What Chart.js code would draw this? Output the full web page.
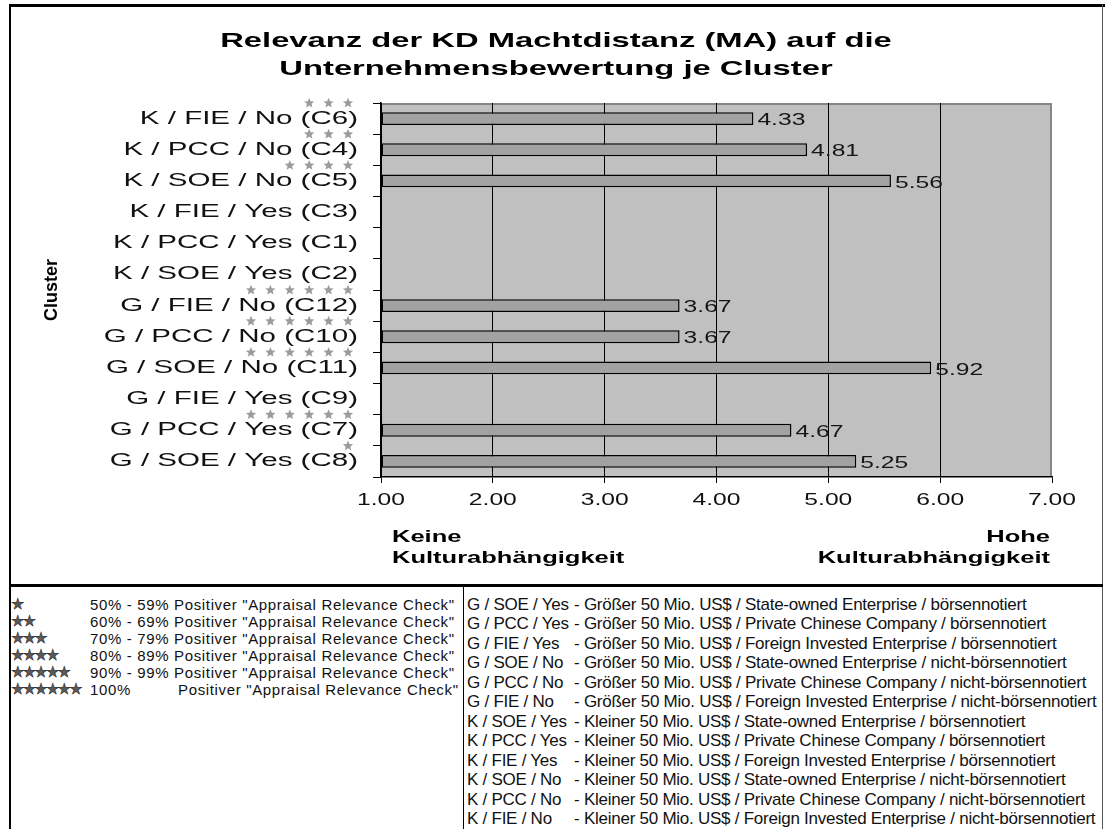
<!DOCTYPE html>
<html>
<head>
<meta charset="utf-8">
<script src="https://cdn.jsdelivr.net/npm/chart.js@4.4.1/dist/chart.umd.min.js"></script>
<style>
  html, body { margin: 0; padding: 0; background: #fff; }
  #page { position: relative; width: 1105px; height: 829px; overflow: hidden; background: #fff;
          font-family: "Liberation Sans", Arial, sans-serif; color: #111; }
  #chartWrap { position: absolute; left: 11px; top: 7px; width: 1090px; height: 577px; }
  .ln { position: absolute; background: #000; }
  .stars { position: absolute; left: 11px; font-family: "DejaVu Sans", sans-serif; font-size: 15px;
           color: #5a5a5a; letter-spacing: -1.8px; -webkit-text-stroke: 0.5px #222; white-space: nowrap; }
  .lt { position: absolute; font-size: 15px; letter-spacing: 0.65px; white-space: nowrap; }
  .code { position: absolute; left: 467px; font-size: 17px; letter-spacing: -0.25px; white-space: nowrap; }
  .desc { position: absolute; left: 574px; font-size: 17px; letter-spacing: -0.25px; white-space: nowrap; }
</style>
</head>
<body>
<div id="page">
  <div id="chartWrap"><canvas id="c" width="1090" height="577"></canvas></div>
  <div class="ln" style="left:9px;top:4px;width:1096px;height:3px;"></div>
  <div class="ln" style="left:9px;top:4px;width:2px;height:825px;"></div>
  <div class="ln" style="left:1102px;top:4px;width:1px;height:825px;background:#555;"></div>
  <div class="ln" style="left:9px;top:584px;width:1094px;height:3px;"></div>
  <div class="ln" style="left:463px;top:587px;width:1px;height:242px;"></div>
  <div id="legendLeft"></div>
  <div id="legendRight"></div>
</div>
<script>
// ---------------- data ----------------
const titleLines = ['Relevanz der KD Machtdistanz (MA) auf die', 'Unternehmensbewertung je Cluster'];
const categories = [
  'K / FIE / No (C6)', 'K / PCC / No (C4)', 'K / SOE / No (C5)',
  'K / FIE / Yes (C3)', 'K / PCC / Yes (C1)', 'K / SOE / Yes (C2)',
  'G / FIE / No (C12)', 'G / PCC / No (C10)', 'G / SOE / No (C11)',
  'G / FIE / Yes (C9)', 'G / PCC / Yes (C7)', 'G / SOE / Yes (C8)'
];
const values = [4.33, 4.81, 5.56, null, null, null, 3.67, 3.67, 5.92, null, 4.67, 5.25];
const starCounts = [3, 3, 4, 0, 0, 0, 6, 6, 6, 0, 6, 1];
const xTickValues = [1, 2, 3, 4, 5, 6, 7];
const yAxisTitle = 'Cluster';
const leftAxisNote = ['Keine', 'Kulturabhängigkeit'];
const rightAxisNote = ['Hohe', 'Kulturabhängigkeit'];
const starLegendCounts = [1, 2, 3, 4, 5, 6];
const starLegendPct = ['50% - 59%', '60% - 69%', '70% - 79%', '80% - 89%', '90% - 99%', '100%'];
const starLegendText = 'Positiver "Appraisal Relevance Check"';
const clusterCodes = [
  'G / SOE / Yes', 'G / PCC / Yes', 'G / FIE / Yes', 'G / SOE / No', 'G / PCC / No', 'G / FIE / No',
  'K / SOE / Yes', 'K / PCC / Yes', 'K / FIE / Yes', 'K / SOE / No', 'K / PCC / No', 'K / FIE / No'
];
const clusterDesc = [
  '- Größer 50 Mio. US$ / State-owned Enterprise / börsennotiert',
  '- Größer 50 Mio. US$ / Private Chinese Company / börsennotiert',
  '- Größer 50 Mio. US$ / Foreign Invested Enterprise / börsennotiert',
  '- Größer 50 Mio. US$ / State-owned Enterprise / nicht-börsennotiert',
  '- Größer 50 Mio. US$ / Private Chinese Company / nicht-börsennotiert',
  '- Größer 50 Mio. US$ / Foreign Invested Enterprise / nicht-börsennotiert',
  '- Kleiner 50 Mio. US$ / State-owned Enterprise / börsennotiert',
  '- Kleiner 50 Mio. US$ / Private Chinese Company / börsennotiert',
  '- Kleiner 50 Mio. US$ / Foreign Invested Enterprise / börsennotiert',
  '- Kleiner 50 Mio. US$ / State-owned Enterprise / nicht-börsennotiert',
  '- Kleiner 50 Mio. US$ / Private Chinese Company / nicht-börsennotiert',
  '- Kleiner 50 Mio. US$ / Foreign Invested Enterprise / nicht-börsennotiert'
];

// ---------------- HTML legends ----------------
(function buildLegends() {
  const L = document.getElementById('legendLeft');
  let h = '';
  starLegendCounts.forEach((n, i) => {
    const top = 596 + i * 17;
    h += `<div class="stars" style="top:${top}px;line-height:17px;">${'★'.repeat(n)}</div>`;
    if (i < 5) {
      h += `<div class="lt" style="left:90px;top:${top}px;line-height:17px;">${starLegendPct[i]} ${starLegendText}</div>`;
    } else {
      h += `<div class="lt" style="left:90px;top:${top}px;line-height:17px;">${starLegendPct[i]}</div>`;
      h += `<div class="lt" style="left:178px;top:${top}px;line-height:17px;">${starLegendText}</div>`;
    }
  });
  L.innerHTML = h;
  const R = document.getElementById('legendRight');
  let r = '';
  clusterCodes.forEach((c, i) => {
    const top = 595 + i * 19.45;
    r += `<div class="code" style="top:${top}px;line-height:19px;">${c}</div>`;
    r += `<div class="desc" style="top:${top}px;line-height:19px;">${clusterDesc[i]}</div>`;
  });
  R.innerHTML = r;
})();

// ---------------- helpers ----------------
// draw a scale's tick labels horizontally stretched (the reference glyphs are wide)
function stretchLabels(scale, sx) {
  if (!scale || scale._stretched) return;
  scale.drawLabels = function (chartArea) {
    const ctx = this.ctx;
    const items = this.getLabelItems(chartArea);
    for (const item of items) {
      const o = item.options;
      const [tx, ty] = o.translation;
      ctx.save();
      ctx.translate(tx, ty);
      ctx.rotate(o.rotation || 0);
      ctx.scale(sx, 1);
      ctx.font = item.font.string;
      ctx.fillStyle = o.color;
      ctx.textAlign = o.textAlign;
      ctx.textBaseline = o.textBaseline;
      const lines = Array.isArray(item.label) ? item.label : [item.label];
      lines.forEach((t, k) => ctx.fillText(t, 0, item.textOffset + k * item.font.lineHeight));
      ctx.restore();
    }
  };
  scale._stretched = true;
}
function stretchTitle(chart, sx) {
  const block = chart.titleBlock;
  if (!block || block._stretched) return;
  const orig = block.draw;
  block.draw = function (...args) {
    const ctx = this.ctx;
    const cx = (this.left + this.right) / 2;
    ctx.save();
    ctx.translate(chart.width / 2, 0);
    ctx.scale(sx, 1);
    ctx.translate(-cx, 0);
    const r = orig.apply(this, args);
    ctx.restore();
    return r;
  };
  block._stretched = true;
}
function stretchedText(ctx, text, x, y, sx) {
  ctx.save();
  ctx.translate(x, y);
  ctx.scale(sx, 1);
  ctx.fillText(text, 0, 0);
  ctx.restore();
}
function drawStar(ctx, cx, cy, R, r) {
  ctx.beginPath();
  for (let k = 0; k < 10; k++) {
    const ang = -Math.PI / 2 + k * Math.PI / 5;
    const rad = k % 2 === 0 ? R : r;
    const px = cx + rad * Math.cos(ang), py = cy + rad * Math.sin(ang);
    if (k === 0) ctx.moveTo(px, py); else ctx.lineTo(px, py);
  }
  ctx.closePath();
  ctx.fill();
}

const stylePlugin = {
  id: 'stylePlugin',
  beforeDraw(chart) {
    stretchLabels(chart.scales.y, 1.64);
    stretchLabels(chart.scales.x, 1.45);
    stretchTitle(chart, 1.56);
    const { ctx, chartArea: a } = chart;
    ctx.save();
    ctx.fillStyle = '#c0c0c0';
    ctx.fillRect(a.left, a.top, a.right - a.left, a.bottom - a.top);
    ctx.strokeStyle = '#868686';
    ctx.lineWidth = 2;
    ctx.beginPath();
    ctx.moveTo(a.left, a.top + 1);
    ctx.lineTo(a.right - 1, a.top + 1);
    ctx.lineTo(a.right - 1, a.bottom);
    ctx.stroke();
    ctx.restore();
  },
  afterDatasetsDraw(chart) {
    const { ctx } = chart;
    const meta = chart.getDatasetMeta(0);
    ctx.save();
    ctx.font = '17px "Liberation Sans", Arial';
    ctx.fillStyle = '#161616';
    ctx.textAlign = 'left';
    ctx.textBaseline = 'middle';
    meta.data.forEach((bar, i) => {
      if (values[i] === null || !isFinite(bar.x)) return;
      stretchedText(ctx, values[i].toFixed(2), bar.x + 4, bar.y + 2, 1.45);
    });
    ctx.restore();
  },
  afterDraw(chart) {
    const { ctx, chartArea: a } = chart;
    const ys = chart.scales.y;
    ctx.save();
    ctx.fillStyle = '#9c9c9c';
    starCounts.forEach((n, i) => {
      const cy = ys.getPixelForValue(i) - 15.5;
      for (let k = 0; k < n; k++) {
        drawStar(ctx, ys.right - 33 - k * 19.4, cy, 5.4, 2.4);
      }
    });
    ctx.fillStyle = '#000';
    ctx.font = 'bold 17px "Liberation Sans", Arial';
    ctx.textBaseline = 'middle';
    ctx.textAlign = 'left';
    stretchedText(ctx, leftAxisNote[0], a.left + 11, a.bottom + 60, 1.5);
    stretchedText(ctx, leftAxisNote[1], a.left + 11, a.bottom + 81, 1.5);
    ctx.textAlign = 'right';
    stretchedText(ctx, rightAxisNote[0], a.right - 2, a.bottom + 60, 1.5);
    stretchedText(ctx, rightAxisNote[1], a.right - 2, a.bottom + 81, 1.5);
    ctx.restore();
  }
};

new Chart(document.getElementById('c'), {
  type: 'bar',
  data: {
    labels: categories,
    datasets: [{
      data: values,
      base: 1,
      backgroundColor: '#a2a2a2',
      borderColor: '#000',
      borderWidth: 1.5,
      borderSkipped: false,
      barPercentage: 0.41,
      categoryPercentage: 1
    }]
  },
  options: {
    indexAxis: 'y',
    responsive: false,
    devicePixelRatio: 1,
    animation: false,
    layout: { padding: { left: 0, right: 49, top: 0, bottom: 0 } },
    plugins: {
      legend: { display: false },
      tooltip: { enabled: false },
      title: {
        display: true,
        text: titleLines,
        color: '#000',
        font: { family: '"Liberation Sans", Arial', weight: 'bold', size: 21, lineHeight: 28 / 21 },
        padding: { top: 20, bottom: 20 }
      }
    },
    scales: {
      x: {
        type: 'linear',
        min: xTickValues[0],
        max: xTickValues[xTickValues.length - 1],
        afterBuildTicks: s => { s.ticks = xTickValues.map(v => ({ value: v })); },
        ticks: {
          callback: v => Number(v).toFixed(2),
          font: { family: '"Liberation Sans", Arial', size: 17 },
          color: '#111',
          padding: 7,
          maxRotation: 0
        },
        grid: {
          color: c => (c.tick && c.tick.value === xTickValues[xTickValues.length - 1]) ? 'rgba(0,0,0,0)' : '#000',
          lineWidth: 1,
          tickLength: 6,
          tickColor: '#000'
        },
        border: { color: '#000', width: 1.5 },
        afterFit: s => { s.height = 107; }
      },
      y: {
        type: 'category',
        grid: { drawOnChartArea: false, drawTicks: true, tickLength: 8, color: '#000', offset: true },
        border: { color: '#000', width: 1.5 },
        ticks: { font: { family: '"Liberation Sans", Arial', size: 18 }, color: '#111', padding: 15, autoSkip: false },
        title: {
          display: true,
          text: yAxisTitle,
          color: '#000',
          font: { family: '"Liberation Sans", Arial', weight: 'bold', size: 18 },
          padding: { top: 30, bottom: 0 }
        },
        afterFit: s => { s.width = 370; }
      }
    }
  },
  plugins: [stylePlugin]
});
</script>
</body>
</html>
